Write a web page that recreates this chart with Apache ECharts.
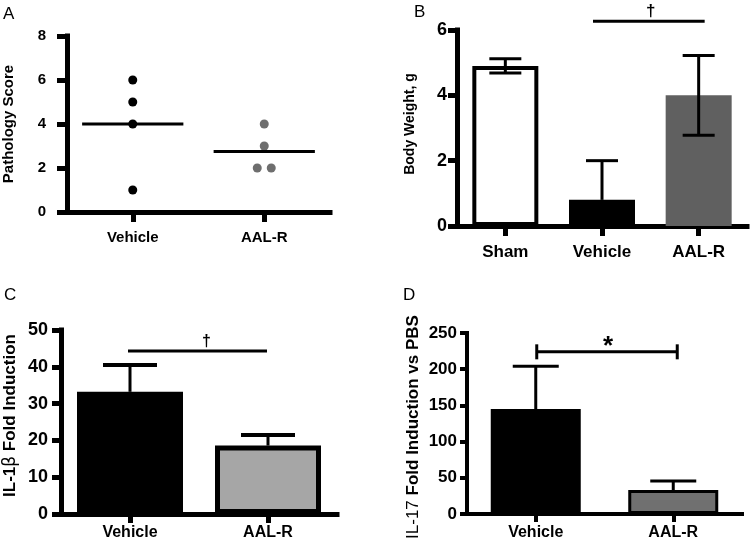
<!DOCTYPE html>
<html><head><meta charset="utf-8">
<script src="https://cdn.jsdelivr.net/npm/echarts@6/dist/echarts.min.js"></script>
<style>html,body{margin:0;padding:0;background:#fff}#c{width:750px;height:541px}</style>
</head><body><div id="c"></div>
<script>
// ---------- DATA ----------
// Panel A: pathology scores (individual animals)
const aCategories = ['Vehicle', 'AAL-R'];
const aVehicleScores = [6, 5, 4, 1];
const aAalrScores = [4, 3, 2, 2];
const aYTicks = [0, 2, 4, 6, 8];

// Panel B: body weight (mean, error)
const bCategories = ['Sham', 'Vehicle', 'AAL-R'];
const bMeans = [4.9, 0.8, 4.0];
const bErrUp = [0.22, 1.2, 1.22];
const bErrDown = [0.22, 0, 1.22];
const bYTicks = [0, 2, 4, 6];
const bSigLevel = 6.27;

// Panel C: IL-1β fold induction
const cCategories = ['Vehicle', 'AAL-R'];
const cMeans = [33.2, 18.6];
const cErrUp = [7.3, 2.9];
const cErrDown = [0, 0];
const cYTicks = [0, 10, 20, 30, 40, 50];
const cSigLevel = 44.3;

// Panel D: IL-17 fold induction vs PBS
const dCategories = ['Vehicle', 'AAL-R'];
const dMeans = [145, 33];
const dErrUp = [59, 12.6];
const dErrDown = [0, 0];
const dYTicks = [0, 50, 100, 150, 200, 250];
const dSigLevel = 224;

// ---------- STYLE ----------
const FONT = "'Liberation Sans', Arial, Helvetica, sans-serif";
const aJitterPx = [0, 0, -7, 7];
const bBarColors = ['#ffffff', '#000000', '#606060'];
const bBarBorders = [4, 0, 0];
const cBarColors = ['#000000', '#a6a6a6'];
const cBarBorders = [0, 5];
const dBarColors = ['#000000', '#707070'];
const dBarBorders = [0, 3];

function yAxisFor(gi, ticks, name, o) {
  return {
    type: 'value', gridIndex: gi,
    min: ticks[0], max: ticks[ticks.length - 1], interval: ticks[1] - ticks[0],
    splitLine: {show: false},
    axisLine: {show: true, onZero: false, lineStyle: {color: '#000', width: o.lw, cap: 'square'}},
    axisTick: {show: true, length: o.tick, lineStyle: {color: '#000', width: o.lw}},
    axisLabel: {fontSize: o.fs, fontWeight: 'bold', color: '#000', margin: o.margin, fontFamily: FONT},
    name: name, nameLocation: 'middle', nameGap: o.nameGap, nameRotate: 90,
    nameTextStyle: {fontSize: o.nfs, fontWeight: 'bold', color: '#000', fontFamily: FONT,
      padding: o.pad || 0, rich: o.rich || {}}
  };
}
function xAxisFor(gi, cats, o) {
  return {
    type: 'category', gridIndex: gi, data: cats, boundaryGap: true,
    splitLine: {show: false},
    axisLine: {show: true, onZero: false, lineStyle: {color: '#000', width: o.lw, cap: 'square'}},
    axisTick: {show: true, alignWithLabel: true, length: o.tick, lineStyle: {color: '#000', width: o.lw}},
    axisLabel: {fontSize: o.fs, fontWeight: 'bold', color: '#000', margin: o.margin, fontFamily: FONT, interval: 0}
  };
}
function barSeries(gi, means, colors, borders, width) {
  return {
    type: 'bar', xAxisIndex: gi, yAxisIndex: gi, barWidth: width, silent: true, z: 2,
    data: means.map((m, i) => ({value: m, itemStyle: {color: colors[i], borderColor: '#000', borderWidth: borders[i], opacity: 1}}))
  };
}
function errorBars(gi, means, up, down, capW, lw, capLw) {
  return {
    type: 'custom', xAxisIndex: gi, yAxisIndex: gi, z: 5, silent: true,
    data: means.map((m, i) => [i, m, up[i], down[i]]),
    renderItem: function (params, api) {
      const i = api.value(0), m = api.value(1), u = api.value(2), d = api.value(3);
      const t = api.coord([i, m + u]), b = api.coord([i, m - d]);
      const st = {stroke: '#000', lineWidth: lw};
      const cs = {stroke: '#000', lineWidth: capLw};
      const ch = [
        {type: 'line', shape: {x1: t[0], y1: t[1], x2: b[0], y2: b[1]}, style: st},
        {type: 'line', shape: {x1: t[0] - capW / 2, y1: t[1], x2: t[0] + capW / 2, y2: t[1]}, style: cs}
      ];
      if (d > 0) ch.push({type: 'line', shape: {x1: b[0] - capW / 2, y1: b[1], x2: b[0] + capW / 2, y2: b[1]}, style: cs});
      return {type: 'group', children: ch};
    }
  };
}
function bracket(gi, from, to, level, label, o) {
  return {
    type: 'custom', xAxisIndex: gi, yAxisIndex: gi, z: 6, silent: true, clip: false,
    data: [[from, level, to]],
    renderItem: function (params, api) {
      const a = api.coord([api.value(0), api.value(1)]);
      const b = api.coord([api.value(2), api.value(1)]);
      const x1 = a[0] - o.padL, x2 = b[0] + o.padR, yy = a[1];
      const st = {stroke: '#000', lineWidth: o.lw};
      const ch = [{type: 'line', shape: {x1: x1, y1: yy, x2: x2, y2: yy}, style: st}];
      if (o.ends) {
        ch.push({type: 'line', shape: {x1: x1, y1: yy - o.ends, x2: x1, y2: yy + o.ends}, style: st});
        ch.push({type: 'line', shape: {x1: x2, y1: yy - o.ends, x2: x2, y2: yy + o.ends}, style: st});
      }
      ch.push({type: 'text', x: (x1 + x2) / 2 + o.dx, y: yy + o.dy,
        style: {text: label, fontSize: o.fs, fontWeight: 'bold', fontFamily: FONT, fill: '#000', align: 'center', verticalAlign: 'bottom'}});
      return {type: 'group', children: ch};
    }
  };
}
function meanOf(arr) { return arr.reduce((s, v) => s + v, 0) / arr.length; }

const option = {
  animation: false,
  backgroundColor: '#fff',
  grid: [
    {left: 67, top: 36, width: 263, height: 176},
    {left: 457, top: 30, width: 290, height: 196},
    {left: 61, top: 330, width: 276, height: 184},
    {left: 467, top: 333, width: 275, height: 181}
  ],
  xAxis: [
    xAxisFor(0, aCategories, {lw: 5, tick: 10, fs: 15, margin: 18}),
    xAxisFor(1, bCategories, {lw: 5, tick: 10, fs: 17, margin: 18}),
    xAxisFor(2, cCategories, {lw: 5, tick: 9, fs: 16, margin: 11}),
    xAxisFor(3, dCategories, {lw: 4, tick: 8, fs: 16, margin: 11})
  ],
  yAxis: [
    yAxisFor(0, aYTicks, 'Pathology Score', {lw: 5, tick: 10, fs: 15, margin: 21, nameGap: 51, nfs: 15}),
    yAxisFor(1, bYTicks, 'Body Weight, g', {lw: 5, tick: 9, fs: 18, margin: 10, nameGap: 40, nfs: 14, pad: [0, 0, 0, 8]}),
    yAxisFor(2, cYTicks, 'IL-1{b|β} Fold Induction', {lw: 5, tick: 9, fs: 18, margin: 13, nameGap: 42, nfs: 17, pad: [0, 0, 0, 13],
      rich: {b: {fontSize: 17, fontWeight: 'normal', fontFamily: 'DejaVu Sans', color: '#000'}}}),
    yAxisFor(3, dYTicks, '{n|IL-17} Fold Induction vs PBS', {lw: 4, tick: 7, fs: 17, margin: 10, nameGap: 45, nfs: 17, pad: [0, 7, 0, 0],
      rich: {n: {fontSize: 17, fontWeight: 'normal', fontFamily: FONT, color: '#000'}}})
  ],
  graphic: [
    {type: 'text', x: 3, y: 14, style: {text: 'A', fontSize: 17, fontFamily: FONT, fill: '#000', verticalAlign: 'middle'}},
    {type: 'text', x: 414, y: 12, style: {text: 'B', fontSize: 17, fontFamily: FONT, fill: '#000', verticalAlign: 'middle'}},
    {type: 'text', x: 4, y: 295, style: {text: 'C', fontSize: 17, fontFamily: FONT, fill: '#000', verticalAlign: 'middle'}},
    {type: 'text', x: 403, y: 295, style: {text: 'D', fontSize: 17, fontFamily: FONT, fill: '#000', verticalAlign: 'middle'}}
  ],
  series: [
    // Panel A
    {type: 'scatter', xAxisIndex: 0, yAxisIndex: 0, symbolSize: 9, z: 4, silent: true,
      itemStyle: {color: '#000', opacity: 1},
      data: aVehicleScores.map(v => [0, v])},
    {type: 'scatter', xAxisIndex: 0, yAxisIndex: 0, symbolSize: 9, z: 4, silent: true,
      itemStyle: {color: '#6e6e6e', opacity: 1},
      data: aAalrScores.map((v, k) => ({value: [1, v], symbolOffset: [aJitterPx[k], 0]}))},
    {type: 'custom', xAxisIndex: 0, yAxisIndex: 0, z: 5, silent: true,
      data: [[0, meanOf(aVehicleScores)], [1, meanOf(aAalrScores)]],
      renderItem: function (params, api) {
        const p = api.coord([api.value(0), api.value(1)]);
        const half = api.size([1, 0])[0] * 0.385;
        return {type: 'line', shape: {x1: p[0] - half, y1: p[1], x2: p[0] + half, y2: p[1]}, style: {stroke: '#000', lineWidth: 3}};
      }},
    // Panel B
    barSeries(1, bMeans, bBarColors, bBarBorders, 66),
    errorBars(1, bMeans, bErrUp, bErrDown, 32, 3, 3),
    bracket(1, 1, 2, bSigLevel, '†', {lw: 3, padL: 9, padR: 6, dx: 2, dy: -1, fs: 17}),
    // Panel C
    barSeries(2, cMeans, cBarColors, cBarBorders, 106),
    errorBars(2, cMeans, cErrUp, cErrDown, 54, 3, 4),
    bracket(2, 0, 1, cSigLevel, '†', {lw: 3, padL: 2, padR: -1, dx: 9, dy: -1, fs: 16}),
    // Panel D
    barSeries(3, dMeans, dBarColors, dBarBorders, 90),
    errorBars(3, dMeans, dErrUp, dErrDown, 46, 3, 3),
    bracket(3, 0, 1, dSigLevel, '*', {lw: 3, padL: -1, padR: 4, dx: 1, dy: 8, fs: 26, ends: 7.5})
  ]
};
const chart = echarts.init(document.getElementById('c'), null, {renderer: 'canvas'});
chart.setOption(option);
</script>
</body></html>
